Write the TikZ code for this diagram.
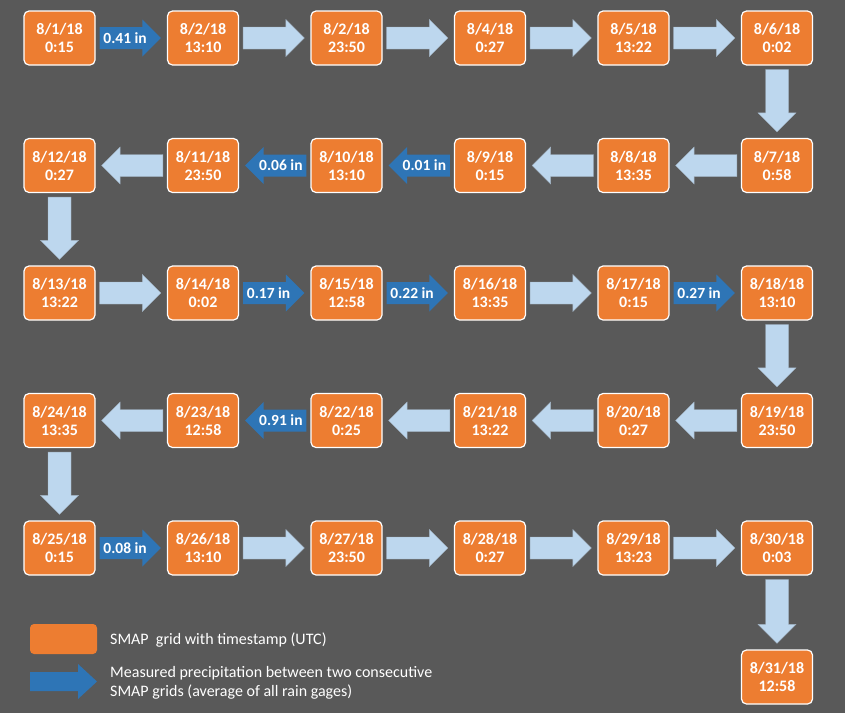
\documentclass[tikz,border=0pt]{standalone}
\usepackage{fontspec}
\setmainfont{Carlito}
\usetikzlibrary{calc}
\definecolor{bgc}{HTML}{595959}
\definecolor{boxc}{HTML}{ED7D31}
\definecolor{darkarr}{HTML}{2E75B6}
\definecolor{lightarr}{HTML}{BDD7EE}
\definecolor{lightedge}{HTML}{9FB0C0}
\tikzset{
  datebox/.style={draw=white, line width=1.2pt, fill=boxc, rounded corners=5pt,
    minimum width=71pt, minimum height=54pt, inner sep=0pt, text=white,
    font=\fontsize{16}{18}\selectfont\bfseries, align=center},
  lightfill/.style={fill=lightarr, draw=lightedge, line width=0.4pt},
  darkfill/.style={fill=darkarr, draw=none},
  arrlabel/.style={text=white, font=\fontsize{15.5}{18}\selectfont\bfseries, inner sep=0pt},
  legtext/.style={text=white, font=\fontsize{16}{19.5}\selectfont, anchor=west, align=left, inner sep=0pt}
}
% rightward block arrow from node #2 to node #3
\newcommand{\rarr}[3]{%
  \path[#1] let \p1=(#2.east), \p2=(#3.west) in
    (\x1+4pt,\y1+11pt) -- (\x2-24.5pt,\y1+11pt) -- (\x2-24.5pt,\y1+18.5pt) -- (\x2-6pt,\y1)
    -- (\x2-24.5pt,\y1-18.5pt) -- (\x2-24.5pt,\y1-11pt) -- (\x1+4pt,\y1-11pt) -- cycle;}
% leftward block arrow from node #2 to node #3
\newcommand{\larr}[3]{%
  \path[#1] let \p1=(#2.west), \p2=(#3.east) in
    (\x1-4pt,\y1+11pt) -- (\x2+24.5pt,\y1+11pt) -- (\x2+24.5pt,\y1+18.5pt) -- (\x2+6pt,\y1)
    -- (\x2+24.5pt,\y1-18.5pt) -- (\x2+24.5pt,\y1-11pt) -- (\x1-4pt,\y1-11pt) -- cycle;}
% downward block arrow from node #2 to node #3
\newcommand{\darr}[3]{%
  \path[#1] let \p1=(#2.south), \p2=(#3.north) in
    (\x1-11.5pt,\y1-4pt) -- (\x1+11.5pt,\y1-4pt) -- (\x1+11.5pt,\y2+25pt) -- (\x1+19pt,\y2+25pt)
    -- (\x1,\y2+6pt) -- (\x1-19pt,\y2+25pt) -- (\x1-11.5pt,\y2+25pt) -- cycle;}
\begin{document}
\begin{tikzpicture}[x=1pt,y=-1pt]
\fill[bgc] (0,0) rectangle (845,713);
\useasboundingbox (0,0) rectangle (845,713);
% row 1
\node[datebox] (b1)  at (59.5,38)  {8/1/18\\0:15};
\node[datebox] (b2)  at (203,38)   {8/2/18\\13:10};
\node[datebox] (b3)  at (346.5,38) {8/2/18\\23:50};
\node[datebox] (b4)  at (490,38)   {8/4/18\\0:27};
\node[datebox] (b5)  at (633.5,38) {8/5/18\\13:22};
\node[datebox] (b6)  at (777,38)   {8/6/18\\0:02};
% row 2
\node[datebox] (b7)  at (777,165.5)   {8/7/18\\0:58};
\node[datebox] (b8)  at (633.5,165.5) {8/8/18\\13:35};
\node[datebox] (b9)  at (490,165.5)   {8/9/18\\0:15};
\node[datebox] (b10) at (346.5,165.5) {8/10/18\\13:10};
\node[datebox] (b11) at (203,165.5)   {8/11/18\\23:50};
\node[datebox] (b12) at (59.5,165.5)  {8/12/18\\0:27};
% row 3
\node[datebox] (b13) at (59.5,293)  {8/13/18\\13:22};
\node[datebox] (b14) at (203,293)   {8/14/18\\0:02};
\node[datebox] (b15) at (346.5,293) {8/15/18\\12:58};
\node[datebox] (b16) at (490,293)   {8/16/18\\13:35};
\node[datebox] (b17) at (633.5,293) {8/17/18\\0:15};
\node[datebox] (b18) at (777,293)   {8/18/18\\13:10};
% row 4
\node[datebox] (b19) at (777,420.5)   {8/19/18\\23:50};
\node[datebox] (b20) at (633.5,420.5) {8/20/18\\0:27};
\node[datebox] (b21) at (490,420.5)   {8/21/18\\13:22};
\node[datebox] (b22) at (346.5,420.5) {8/22/18\\0:25};
\node[datebox] (b23) at (203,420.5)   {8/23/18\\12:58};
\node[datebox] (b24) at (59.5,420.5)  {8/24/18\\13:35};
% row 5
\node[datebox] (b25) at (59.5,548)  {8/25/18\\0:15};
\node[datebox] (b26) at (203,548)   {8/26/18\\13:10};
\node[datebox] (b27) at (346.5,548) {8/27/18\\23:50};
\node[datebox] (b28) at (490,548)   {8/28/18\\0:27};
\node[datebox] (b29) at (633.5,548) {8/29/18\\13:23};
\node[datebox] (b30) at (777,548)   {8/30/18\\0:03};
% row 6
\node[datebox] (b31) at (777,677)   {8/31/18\\12:58};
% arrows row 1
\rarr{darkfill}{b1}{b2}
\rarr{lightfill}{b2}{b3}
\rarr{lightfill}{b3}{b4}
\rarr{lightfill}{b4}{b5}
\rarr{lightfill}{b5}{b6}
\darr{lightfill}{b6}{b7}
% row 2
\larr{lightfill}{b7}{b8}
\larr{lightfill}{b8}{b9}
\larr{darkfill}{b9}{b10}
\larr{darkfill}{b10}{b11}
\larr{lightfill}{b11}{b12}
\darr{lightfill}{b12}{b13}
% row 3
\rarr{lightfill}{b13}{b14}
\rarr{darkfill}{b14}{b15}
\rarr{darkfill}{b15}{b16}
\rarr{lightfill}{b16}{b17}
\rarr{darkfill}{b17}{b18}
\darr{lightfill}{b18}{b19}
% row 4
\larr{lightfill}{b19}{b20}
\larr{lightfill}{b20}{b21}
\larr{lightfill}{b21}{b22}
\larr{darkfill}{b22}{b23}
\larr{lightfill}{b23}{b24}
\darr{lightfill}{b24}{b25}
% row 5
\rarr{darkfill}{b25}{b26}
\rarr{lightfill}{b26}{b27}
\rarr{lightfill}{b27}{b28}
\rarr{lightfill}{b28}{b29}
\rarr{lightfill}{b29}{b30}
\darr{lightfill}{b30}{b31}
% labels on dark arrows
\node[arrlabel] (l1)  at ($(b1.east)+(29.5pt,0)$)  {0.41 in};
\node[arrlabel] (l2)  at ($(b9.west)+(-29.5pt,0)$) {0.01 in};
\node[arrlabel] (l3)  at ($(b10.west)+(-29.5pt,0)$) {0.06 in};
\node[arrlabel] (l4)  at ($(b14.east)+(29.5pt,0)$) {0.17 in};
\node[arrlabel] (l5)  at ($(b15.east)+(29.5pt,0)$) {0.22 in};
\node[arrlabel] (l6)  at ($(b17.east)+(29.5pt,0)$) {0.27 in};
\node[arrlabel] (l7)  at ($(b22.west)+(-29.5pt,0)$) {0.91 in};
\node[arrlabel] (l8)  at ($(b25.east)+(29.5pt,0)$) {0.08 in};
% legend
\node[fill=boxc, rounded corners=4pt, minimum width=67pt, minimum height=30pt, inner sep=0pt] (legbox) at (63.5,639) {};
\node[legtext] (legt1) at (110,640) {SMAP\ \ grid with timestamp (UTC)};
\coordinate (legA) at (30,681.5);
\coordinate (legB) at (97,681.5);
\path[darkfill] let \p1=(legA), \p2=(legB) in
  (\x1,\y1+9.5pt) -- (\x2-19pt,\y1+9.5pt) -- (\x2-19pt,\y1+17.5pt) -- (\x2,\y1)
  -- (\x2-19pt,\y1-17.5pt) -- (\x2-19pt,\y1-9.5pt) -- (\x1,\y1-9.5pt) -- cycle;
\node[legtext] (legt2) at (110,683) {Measured precipitation between two consecutive\\SMAP grids (average of all rain gages)};
\end{tikzpicture}
\end{document}
